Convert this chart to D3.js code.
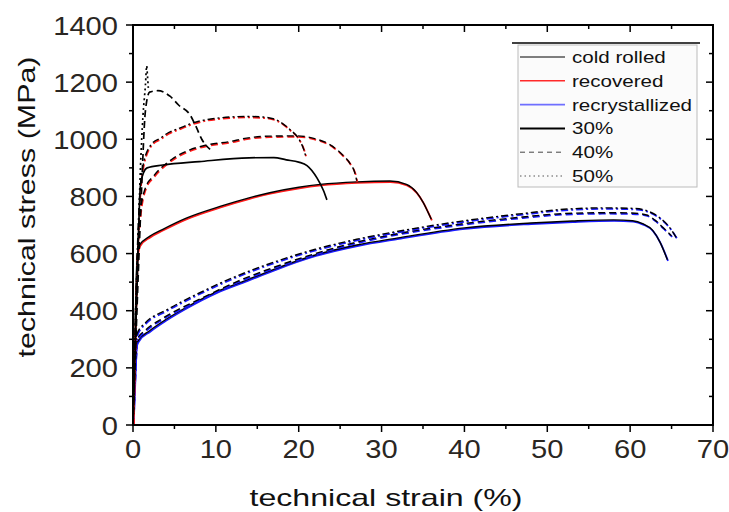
<!DOCTYPE html>
<html>
<head>
<meta charset="utf-8">
<script src="https://cdn.jsdelivr.net/npm/d3@7"></script>
<style>
  body { margin: 0; background: #fff; }
  svg { display: block; font-family: "Liberation Sans", Arial, sans-serif; }
</style>
</head>
<body>
<svg width="729" height="512"></svg>
<script>
// ---- data (strain %, stress MPa) ----
const strainTicks = [0, 10, 20, 30, 40, 50, 60, 70];
const stressTicks = [0, 200, 400, 600, 800, 1000, 1200, 1400];

const cr30 = [[0,0],[0.5,500],[0.9,840],[1.3,885],[1.7,900],[3.6,910],[8,922],[14,935],[17,936],[18.5,928],[20,920],[21,908],[22.2,865],[23,820],[23.4,788]];
const cr40 = [[0,0],[0.6,500],[1,800],[1.5,1100],[2,1165],[3,1170],[4.5,1150],[5.5,1120],[6.9,1085],[7.6,1045],[8.3,1000],[9.3,965]];
const cr50 = [[0,0],[0.5,500],[0.9,900],[1.2,1080],[1.5,1190],[1.65,1257],[1.75,1220],[1.85,1180]];

const rec30 = [[0,0],[0.3,400],[0.5,590],[0.8,630],[2,660],[3.6,685],[6.5,725],[10.5,765],[14,795],[16.5,813],[20,832],[22.6,842],[27,851],[31,854],[33,842],[34.2,815],[35,780],[35.6,745],[36,720]];
const rec40 = [[0,0],[0.4,500],[0.8,720],[1.5,830],[2.5,872],[4.7,930],[6.6,960],[8.9,980],[11.7,992],[13.7,1004],[16.5,1011],[19.8,1012],[21.7,1004],[24.1,975],[25.3,945],[26.2,915],[26.8,880],[27,855]];
const rec50 = [[0,0],[0.4,500],[0.8,800],[1.3,920],[2.3,985],[3.3,1004],[4.2,1022],[5.7,1040],[7.2,1057],[10.5,1075],[13.7,1080],[15.7,1078],[17.3,1068],[18.9,1035],[20.1,997],[20.6,965],[20.9,935]];

const rx30 = [[0,0],[0.2,150],[0.4,280],[0.7,298],[2,330],[4,370],[6.5,413],[10,465],[13.7,507],[17,545],[22,595],[27,630],[32,655],[40,690],[48,707],[53,714],[58,718],[60.3,715],[61.5,705],[62.7,682],[63.6,640],[64.5,578]];
const rx40 = [[0,0],[0.2,160],[0.5,300],[1.5,332],[3.6,374],[8.3,444],[12,495],[17,552],[22,600],[27,640],[32,670],[40,705],[47,728],[52,740],[57,743],[60.2,742],[62,735],[63,717],[64,690],[65,662]];
const rx50 = [[0,0],[0.2,170],[0.5,320],[1.5,358],[4,402],[8,462],[12,515],[17,570],[22,615],[27,650],[32,678],[40,715],[47,740],[52,755],[57,760],[60.5,758],[62,750],[63.5,727],[64.8,690],[65.7,650]];

const legendLabels = ["cold rolled", "recovered", "recrystallized", "30%", "40%", "50%"];

// ---- layout ----
const svg = d3.select("svg");
const plotLeft = 133, plotRight = 713, plotTop = 25, plotBottom = 425;

const x = d3.scaleLinear().domain([0, 70]).range([plotLeft, plotRight]);
const y = d3.scaleLinear().domain([0, 1400]).range([plotBottom, plotTop]);

// the source text is set wider than plain Arial, so widen it a bit
const widen = (sel, k) => sel.each(function () {
  const len = this.getComputedTextLength() * k;
  d3.select(this).attr("textLength", len).attr("lengthAdjust", "spacingAndGlyphs");
});

const dashed = "7,4";
const dashDot = "7,3,2,3";

const series = [
  {data: rx30, color: "#1a1aff", dash: null},
  {data: rx40, color: "#1a1aff", dash: dashed},
  {data: rx50, color: "#1a1aff", dash: dashDot},
  {data: rec30, color: "#ff1a1a", dash: null},
  {data: rec40, color: "#ff1a1a", dash: dashed},
  {data: rec50, color: "#ff1a1a", dash: dashDot},
  {data: cr30, color: null, dash: null},
  {data: cr40, color: null, dash: dashed},
  {data: cr50, color: null, dash: "2,3"},
];

const line = d3.line()
  .x(d => x(d[0]))
  .y(d => y(d[1]))
  .curve(d3.curveMonotoneX);

const g_curves = svg.append("g").attr("fill", "none");

series.forEach(s => {
  // coloured trace sits a touch below the black copy, as in the scan
  if (s.color) {
    g_curves.append("path")
      .attr("d", line(s.data))
      .attr("transform", "translate(0.6,1)")
      .attr("stroke", s.color)
      .attr("stroke-width", 1.8)
      .attr("stroke-dasharray", s.dash);
  }
  g_curves.append("path")
    .attr("d", line(s.data))
    .attr("stroke", "#000")
    .attr("stroke-width", s.color ? 1.4 : 1.7)
    .attr("stroke-dasharray", s.dash);
});

// ---- axes ----
const xMinor = d3.range(0, 71, 5);
const yMinor = d3.range(0, 1401, 100);

const g_axes = svg.append("g").attr("stroke", "#000");

// bottom ticks (outward)
g_axes.selectAll("line.xb").data(xMinor).enter().append("line")
  .attr("x1", d => x(d)).attr("x2", d => x(d))
  .attr("y1", plotBottom).attr("y2", d => plotBottom + (d % 10 === 0 ? 7 : 4))
  .attr("stroke-width", 1.5);
// top ticks (inward)
g_axes.selectAll("line.xt").data(xMinor).enter().append("line")
  .attr("x1", d => x(d)).attr("x2", d => x(d))
  .attr("y1", plotTop).attr("y2", d => plotTop + (d % 10 === 0 ? 7 : 4))
  .attr("stroke-width", 1.5);
// left ticks (outward)
g_axes.selectAll("line.yl").data(yMinor).enter().append("line")
  .attr("y1", d => y(d)).attr("y2", d => y(d))
  .attr("x1", plotLeft).attr("x2", d => plotLeft - (d % 200 === 0 ? 7 : 4))
  .attr("stroke-width", 1.5);
// right ticks (inward)
g_axes.selectAll("line.yr").data(yMinor).enter().append("line")
  .attr("y1", d => y(d)).attr("y2", d => y(d))
  .attr("x1", plotRight).attr("x2", d => plotRight - (d % 200 === 0 ? 7 : 4))
  .attr("stroke-width", 1.5);

g_axes.append("rect")
  .attr("x", plotLeft).attr("y", plotTop)
  .attr("width", plotRight - plotLeft).attr("height", plotBottom - plotTop)
  .attr("fill", "none")
  .attr("stroke-width", 2);

// tick labels
svg.append("g").selectAll("text").data(strainTicks).enter().append("text")
  .attr("x", d => x(d)).attr("y", 458)
  .attr("text-anchor", "middle")
  .attr("font-size", 26)
  .attr("fill", "#2a2622")
  .text(d => d)
  .call(widen, 1.12);

svg.append("g").selectAll("text").data(stressTicks).enter().append("text")
  .attr("x", 118).attr("y", d => y(d) + 9.5)
  .attr("text-anchor", "end")
  .attr("font-size", 26)
  .attr("fill", "#2a2622")
  .text(d => d)
  .call(widen, 1.12);

// axis titles
svg.append("text")
  .attr("x", 386).attr("y", 506)
  .attr("text-anchor", "middle")
  .attr("font-size", 24)
  .attr("fill", "#111")
  .text("technical strain (%)")
  .attr("textLength", 273).attr("lengthAdjust", "spacingAndGlyphs");

svg.append("text")
  .attr("transform", "translate(35,207) rotate(-90)")
  .attr("text-anchor", "middle")
  .attr("font-size", 24)
  .attr("fill", "#111")
  .text("technical stress (MPa)")
  .attr("textLength", 301).attr("lengthAdjust", "spacingAndGlyphs");

// ---- legend ----
const legendStyles = [
  {stroke: "#000", width: 1, dash: null},
  {stroke: "#ff2a2a", width: 1.6, dash: null},
  {stroke: "#6f6fff", width: 1.6, dash: null},
  {stroke: "#000", width: 2, dash: null},
  {stroke: "#444", width: 1, dash: "5,4"},
  {stroke: "#555", width: 1, dash: "1.5,3"},
];

const lg = svg.append("g");
lg.append("rect")
  .attr("x", 518).attr("y", 45)
  .attr("width", 179).attr("height", 142)
  .attr("fill", "#fbfbfb")
  .attr("stroke", "#bbb")
  .attr("stroke-width", 1);
lg.append("line")
  .attr("x1", 512).attr("x2", 700)
  .attr("y1", 43).attr("y2", 43)
  .attr("stroke", "#000").attr("stroke-width", 1.5);

const rows = lg.selectAll("g.row").data(legendLabels).enter().append("g")
  .attr("transform", (d, i) => `translate(0,${57 + i * 23.8})`);
rows.append("line")
  .attr("x1", 520).attr("x2", 565)
  .attr("y1", 0).attr("y2", 0)
  .attr("stroke", (d, i) => legendStyles[i].stroke)
  .attr("stroke-width", (d, i) => legendStyles[i].width)
  .attr("stroke-dasharray", (d, i) => legendStyles[i].dash);
rows.append("text")
  .attr("x", 572).attr("y", 6)
  .attr("font-size", 17)
  .attr("fill", "#111")
  .text(d => d)
  .call(widen, 1.21);
</script>
</body>
</html>
